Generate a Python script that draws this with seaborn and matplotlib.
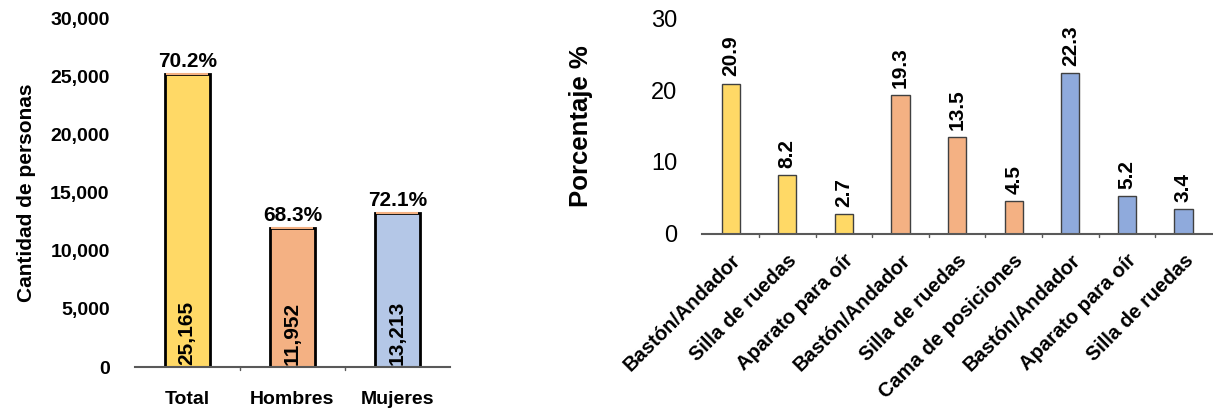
import matplotlib
matplotlib.use("Agg")
import matplotlib.pyplot as plt
import seaborn as sns
import pandas as pd

sns.set_theme(style="white")
plt.rcParams['font.family'] = ['Liberation Sans', 'DejaVu Sans']
plt.rcParams['text.color'] = 'black'
plt.rcParams['xtick.color'] = 'black'
plt.rcParams['ytick.color'] = 'black'
plt.rcParams['axes.labelcolor'] = 'black'

# Left chart data
groups = ["Total", "Hombres", "Mujeres"]
counts = [25165, 11952, 13213]
pct_labels = ["70.2%", "68.3%", "72.1%"]
left_colors = ["#FFD966", "#F4B183", "#B4C7E7"]
left_yticks = [0, 5000, 10000, 15000, 20000, 25000, 30000]

# Right chart data
devices = ["Bastón/Andador", "Silla de ruedas", "Aparato para oír",
           "Bastón/Andador", "Silla de ruedas", "Cama de posiciones",
           "Bastón/Andador", "Aparato para oír", "Silla de ruedas"]
percents = [20.9, 8.2, 2.7, 19.3, 13.5, 4.5, 22.3, 5.2, 3.4]
device_group = ["Total", "Total", "Total", "Hombres", "Hombres", "Hombres",
                "Mujeres", "Mujeres", "Mujeres"]
right_colors = {"Total": "#FFD966", "Hombres": "#F4B183", "Mujeres": "#8FAADC"}
right_yticks = [0, 10, 20, 30]

fig = plt.figure(figsize=(12.13, 4.11), dpi=100)

# ---------- Left ----------
ax1 = fig.add_axes([0.111, 0.107, 0.26, 0.849])
dfl = pd.DataFrame({"g": groups, "n": counts})
sns.barplot(data=dfl, x="g", y="n", hue="g", palette=left_colors, legend=False,
            width=0.43, edgecolor="black", linewidth=2, saturation=1, ax=ax1)
# thin orange cap on top of each bar
for i, v in enumerate(counts):
    ax1.hlines(v, i - 0.2, i + 0.2, color="#F4B183", linewidth=1.5, zorder=5)
ax1.set_ylim(0, 30000)
ax1.set_xlim(-0.5, 2.5)
ax1.set_yticks(left_yticks)
ax1.set_yticklabels([f"{t:,}" for t in left_yticks], fontsize=14, fontweight="bold")
ax1.set_xticks([0, 1, 2])
ax1.set_xticklabels(groups, fontsize=14, fontweight="bold")
ax1.tick_params(axis="x", length=0, pad=17)
ax1.tick_params(axis="y", length=0, pad=18)
ax1.set_xlabel("")
ax1.set_ylabel("Cantidad de personas", fontsize=15, fontweight="bold", labelpad=10)
for s in ["top", "right", "left"]:
    ax1.spines[s].set_visible(False)
ax1.spines["bottom"].set_color("#595959")
ax1.spines["bottom"].set_linewidth(1.5)
for b in [0.5, 1.5]:
    ax1.plot([b, b], [0, -250], color="#595959", lw=1, clip_on=False)
for i, (v, p) in enumerate(zip(counts, pct_labels)):
    ax1.text(i, v + 300, p, ha="center", va="bottom", fontsize=15, fontweight="bold")
    ax1.text(i, 200, f"{v:,}", ha="center", va="bottom", rotation=90,
             fontsize=15, fontweight="bold")

# ---------- Right ----------
ax2 = fig.add_axes([0.579, 0.431, 0.42, 0.525])
ids = [str(i) for i in range(len(devices))]
dfr = pd.DataFrame({"id": ids, "p": percents, "grp": device_group})
sns.barplot(data=dfr, x="id", y="p", hue="grp", palette=right_colors, legend=False,
            width=0.32, edgecolor="#404040", linewidth=1, dodge=False, saturation=1,
            ax=ax2)
ax2.set_ylim(0, 30)
ax2.set_xlim(-0.5, len(devices) - 0.5)
ax2.set_yticks(right_yticks)
ax2.set_yticklabels([str(t) for t in right_yticks], fontsize=17)
ax2.tick_params(axis="y", length=0, pad=18)
ax2.set_xticks(range(len(devices)))
ax2.set_xticklabels(devices, rotation=45, ha="right", rotation_mode="anchor",
                    fontsize=14.5, fontweight="bold")
ax2.tick_params(axis="x", length=0, pad=12)
ax2.set_xlabel("")
ax2.set_ylabel("Porcentaje %", fontsize=18.5, fontweight="bold", labelpad=42)
for s in ["top", "right", "left"]:
    ax2.spines[s].set_visible(False)
ax2.spines["bottom"].set_color("#595959")
ax2.spines["bottom"].set_linewidth(1.5)
for b in range(1, len(devices)):
    ax2.plot([b - 0.5, b - 0.5], [0, -0.4], color="#595959", lw=1, clip_on=False)
for i, v in enumerate(percents):
    ax2.text(i, v + 1.0, f"{v}", ha="center", va="bottom", rotation=90,
             fontsize=15, fontweight="bold")

fig.savefig("out.png", dpi=100)
